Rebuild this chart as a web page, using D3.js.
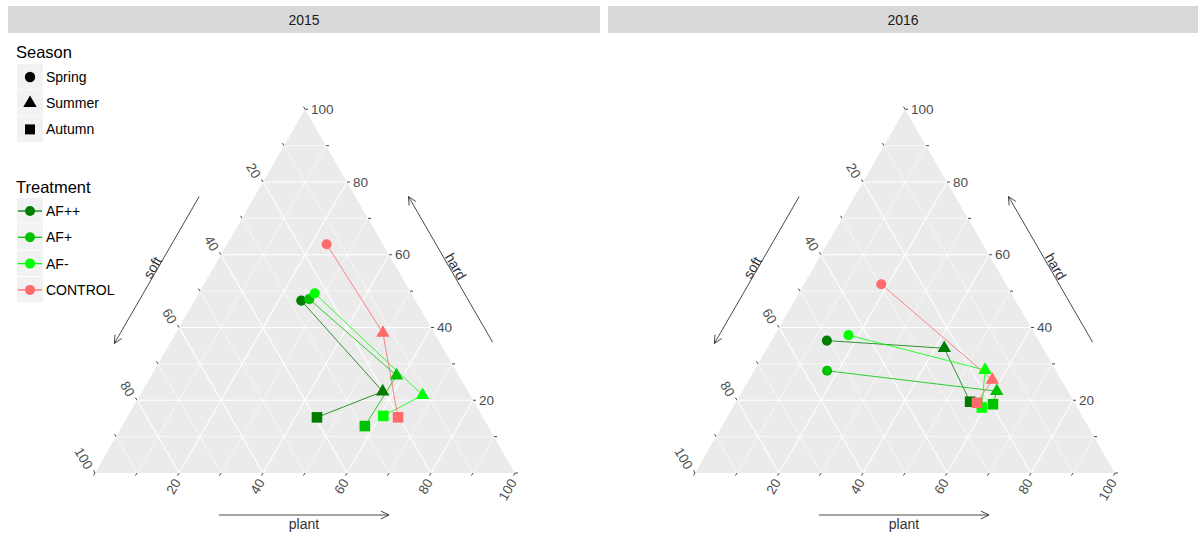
<!DOCTYPE html>
<html><head><meta charset="utf-8">
<script src="https://cdn.jsdelivr.net/npm/d3@7"></script>
<style>body{margin:0;background:#fff}svg{display:block}text{font-family:"Liberation Sans",Arial,sans-serif}</style>
</head><body>
<svg id="chart" width="1198" height="534"></svg>
<script>
// ---- data ----
const years = ["2015", "2016"];
const treatments = ["AF++", "AF+", "AF-", "CONTROL"];
const seasons = ["Spring", "Summer", "Autumn"];
const treatmentColors = ["#007D00", "#00C200", "#00FF00", "#FF6A6A"];
const axisNames = ["soft", "hard", "plant"];
const tickLabels = ["20", "40", "60", "80", "100"];

// values per treatment (rows) x season (Spring, Summer, Autumn)
const plant2015 = [[25.4, 57.3, 45.2], [27.1, 58.4, 57.8], [27.6, 67.3, 60.8], [23.7, 49.3, 64.5]];
const hard2015  = [[47.4, 22.4, 15.3], [47.8, 26.8, 12.9], [49.4, 21.4, 15.7], [62.9, 38.5, 15.3]];
const soft2015  = [[27.2, 20.3, 39.5], [25.1, 14.8, 29.3], [23.0, 11.3, 23.5], [13.4, 12.2, 20.2]];
const plant2016 = [[13.2, 42.2, 55.7], [17.4, 60.6, 61.5], [17.6, 54.9, 59.3], [18.4, 58.0, 57.5]];
const hard2016  = [[36.4, 34.3, 19.6], [28.1, 22.5, 18.9], [37.9, 28.3, 18.0], [51.9, 25.6, 19.3]];
const soft2016  = [[50.4, 23.5, 24.7], [54.5, 16.9, 19.6], [44.5, 16.8, 22.7], [29.7, 16.4, 23.2]];

const yearData = {
  "2015": {plant: plant2015, hard: hard2015, soft: soft2015},
  "2016": {plant: plant2016, hard: hard2016, soft: soft2016}
};

// ---- drawing ----
const svg = d3.select("#chart");
const color = d3.scaleOrdinal().domain(treatments).range(treatmentColors);
const shape = d3.scaleOrdinal().domain(seasons).range([d3.symbolCircle, d3.symbolTriangle, d3.symbolSquare]);
const shapeSize = d3.scaleOrdinal().domain(seasons).range([80, 78, 112]);
const legendShapeSize = d3.scaleOrdinal().domain(seasons).range([85, 78, 100]);

const W = 420, H = W * Math.sqrt(3) / 2;
const panels = [
  {year: "2015", stripX: 8, stripW: 592, x0: 95},
  {year: "2016", stripX: 608, stripW: 590, x0: 695}
];
const y0 = 473;
const S3 = Math.sqrt(3) / 2;

panels.forEach(pn => {
  const g = svg.append("g");
  // strip
  g.append("rect").attr("x", pn.stripX).attr("y", 6).attr("width", pn.stripW).attr("height", 27).attr("fill", "#D9D9D9");
  g.append("text").attr("x", pn.stripX + pn.stripW / 2).attr("y", 20).attr("text-anchor", "middle")
    .attr("dominant-baseline", "central").attr("font-size", 14).attr("fill", "#1A1A1A").text(pn.year);

  const xs = d3.scaleLinear().domain([0, 100]).range([pn.x0, pn.x0 + W]);
  const ys = d3.scaleLinear().domain([0, 100]).range([y0, y0 - H]);
  const pos = (p, s, h) => { const t = p + s + h; p = p / t * 100; h = h / t * 100; return [xs(p + h / 2), ys(h)]; };

  // triangle background
  const corners = [pos(0, 100, 0), pos(100, 0, 0), pos(0, 0, 100)];
  g.append("polygon").attr("points", corners.map(c => c.join(",")).join(" ")).attr("fill", "#EBEBEB");

  // grid
  const gridVals = d3.range(10, 100, 10);
  const grid = g.append("g").attr("stroke", "#FFFFFF").attr("fill", "none");
  gridVals.forEach(v => {
    const sw = v % 20 === 0 ? 1.1 : 0.6;
    const segs = [
      [pos(0, 100 - v, v), pos(100 - v, 0, v)],   // hard
      [pos(v, 100 - v, 0), pos(v, 0, 100 - v)],   // plant
      [pos(100 - v, v, 0), pos(0, v, 100 - v)]    // soft
    ];
    segs.forEach(sg => grid.append("line").attr("x1", sg[0][0]).attr("y1", sg[0][1])
      .attr("x2", sg[1][0]).attr("y2", sg[1][1]).attr("stroke-width", sw));
  });

  // ticks
  const tickVals = d3.range(0, 101, 10);
  const tk = g.append("g").attr("stroke", "#333333").attr("stroke-width", 0.9);
  const dirHard = [1, 0], dirPlant = [-0.5, S3], dirSoft = [-0.5, -S3];
  const tl = 3;
  tickVals.forEach(v => {
    const eh = pos(100 - v, 0, v), ep = pos(v, 100 - v, 0), es = pos(0, v, 100 - v);
    [[eh, dirHard], [ep, dirPlant], [es, dirSoft]].forEach(([e, d]) => {
      tk.append("line").attr("x1", e[0]).attr("y1", e[1]).attr("x2", e[0] + d[0] * tl).attr("y2", e[1] + d[1] * tl);
    });
  });

  // tick labels
  const lab = g.append("g").attr("font-size", 13.5).attr("fill", "#4D4D4D");
  tickLabels.forEach(t => {
    const v = +t;
    const eh = pos(100 - v, 0, v);
    lab.append("text").attr("x", eh[0] + 6).attr("y", eh[1]).attr("dominant-baseline", "central").text(t);
    const ep = pos(v, 100 - v, 0);
    const px = ep[0] + dirPlant[0] * 7, py = ep[1] + dirPlant[1] * 7;
    lab.append("text").attr("transform", `translate(${px},${py}) rotate(-60)`).attr("text-anchor", "end")
      .attr("dominant-baseline", "central").attr("dy", "0.15em").text(t);
    const es = pos(0, v, 100 - v);
    const sx = es[0] + dirSoft[0] * 7, sy = es[1] + dirSoft[1] * 7;
    lab.append("text").attr("transform", `translate(${sx},${sy}) rotate(60)`).attr("text-anchor", "end")
      .attr("dominant-baseline", "central").attr("dy", "0.2em").text(t);
  });

  // axis arrows
  const arrowG = g.append("g").attr("stroke", "#333333").attr("stroke-width", 0.9).attr("fill", "none");
  function arrow(a, b) {
    arrowG.append("line").attr("x1", a[0]).attr("y1", a[1]).attr("x2", b[0]).attr("y2", b[1]);
    const ang = Math.atan2(b[1] - a[1], b[0] - a[0]);
    const L = 9, sp = Math.PI / 7;
    [ang + Math.PI - sp, ang + Math.PI + sp].forEach(t => {
      arrowG.append("line").attr("x1", b[0]).attr("y1", b[1])
        .attr("x2", b[0] + L * Math.cos(t)).attr("y2", b[1] + L * Math.sin(t));
    });
  }
  const BL = corners[0], BR = corners[1];
  // soft (left edge, from bottom-left upward direction)
  const uS = [0.5, -S3], nS = [-S3, -0.5], dS = 48;
  const sA = [BL[0] + uS[0] * W * 0.694 + nS[0] * dS, BL[1] + uS[1] * W * 0.694 + nS[1] * dS];
  const sB = [BL[0] + uS[0] * W * 0.29 + nS[0] * dS, BL[1] + uS[1] * W * 0.29 + nS[1] * dS];
  arrow(sA, sB);
  // hard (right edge)
  const uH = [-0.5, -S3], nH = [S3, -0.5], dH = 46;
  const hA = [BR[0] + uH[0] * W * 0.296 + nH[0] * dH, BR[1] + uH[1] * W * 0.296 + nH[1] * dH];
  const hB = [BR[0] + uH[0] * W * 0.697 + nH[0] * dH, BR[1] + uH[1] * W * 0.697 + nH[1] * dH];
  arrow(hA, hB);
  // plant (bottom)
  const pA = [BL[0] + W * 0.295, y0 + 42], pB = [BL[0] + W * 0.70, y0 + 42];
  arrow(pA, pB);

  const at = g.append("g").attr("font-size", 14).attr("fill", "#333333");
  const sm = [(sA[0] + sB[0]) / 2 + nS[0] * 5, (sA[1] + sB[1]) / 2 + nS[1] * 5];
  at.append("text").attr("transform", `translate(${sm[0]},${sm[1]}) rotate(-60)`).attr("text-anchor", "middle")
    .attr("dominant-baseline", "central").text(axisNames[0]);
  const hm = [(hA[0] + hB[0]) / 2 + nH[0] * 6, (hA[1] + hB[1]) / 2 + nH[1] * 6];
  at.append("text").attr("transform", `translate(${hm[0]},${hm[1]}) rotate(60)`).attr("text-anchor", "middle")
    .attr("dominant-baseline", "central").text(axisNames[1]);
  at.append("text").attr("x", (pA[0] + pB[0]) / 2).attr("y", y0 + 56).attr("text-anchor", "middle").text(axisNames[2]);

  // data
  const d = yearData[pn.year];
  const lineGen = d3.line();
  const pts = [];
  treatments.forEach((tr, i) => {
    const coords = seasons.map((se, j) => pos(d.plant[i][j], d.soft[i][j], d.hard[i][j]));
    g.append("path").attr("d", lineGen(coords)).attr("fill", "none").attr("stroke", color(tr))
      .attr("stroke-width", 1).attr("stroke-opacity", 0.8);
    seasons.forEach((se, j) => pts.push({tr, se, c: coords[j]}));
  });
  pts.forEach(p => {
    g.append("path").attr("d", d3.symbol().type(shape(p.se)).size(shapeSize(p.se))())
      .attr("transform", `translate(${p.c[0]},${p.c[1]})`).attr("fill", color(p.tr));
  });
});

// ---- legend ----
const lg = svg.append("g").attr("font-size", 14).attr("fill", "#000");
lg.append("text").attr("x", 16).attr("y", 58).attr("font-size", 16.5).text("Season");
seasons.forEach((se, i) => {
  const cy = 77 + i * 26.2;
  lg.append("rect").attr("x", 17).attr("y", cy - 13).attr("width", 26).attr("height", 25.5).attr("fill", "#F2F2F2");
  lg.append("path").attr("d", d3.symbol().type(shape(se)).size(legendShapeSize(se))())
    .attr("transform", `translate(30,${cy})`).attr("fill", "#000");
  lg.append("text").attr("x", 46).attr("y", cy).attr("dominant-baseline", "central").text(se);
});
lg.append("text").attr("x", 16).attr("y", 192.5).attr("font-size", 16.5).text("Treatment");
treatments.forEach((tr, i) => {
  const cy = 211 + i * 26.3;
  lg.append("rect").attr("x", 17).attr("y", cy - 13).attr("width", 26).attr("height", 25.5).attr("fill", "#F2F2F2");
  lg.append("line").attr("x1", 18).attr("x2", 42).attr("y1", cy).attr("y2", cy).attr("stroke", color(tr)).attr("stroke-width", 1.3);
  lg.append("circle").attr("cx", 30).attr("cy", cy).attr("r", 5).attr("fill", color(tr));
  lg.append("text").attr("x", 46).attr("y", cy).attr("dominant-baseline", "central").text(tr);
});
</script>
</body></html>
